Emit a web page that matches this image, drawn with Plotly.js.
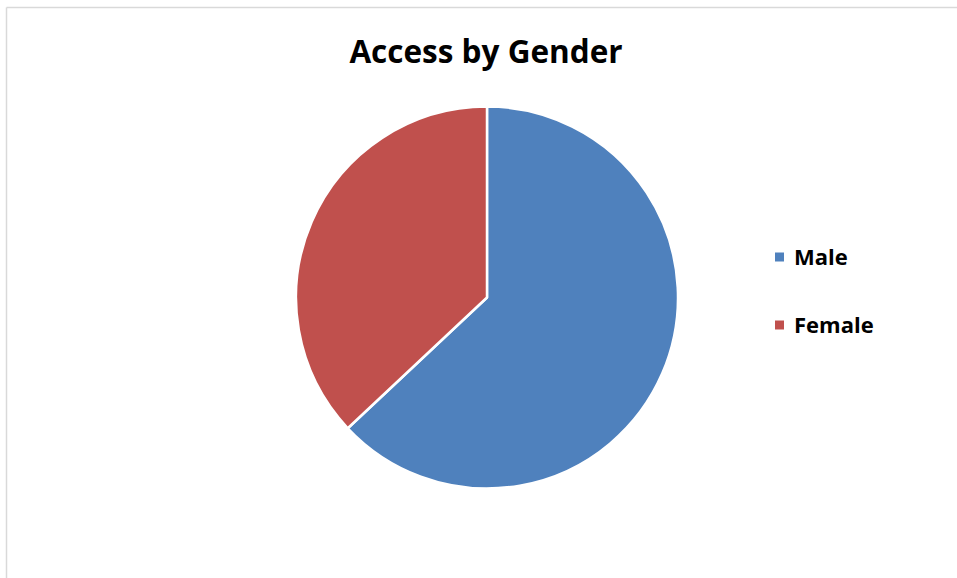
<!DOCTYPE html>
<html>
<head>
<meta charset="utf-8">
<script src="https://cdn.plot.ly/plotly-3.0.1.min.js"></script>
<style>html,body{margin:0;padding:0;background:#fff;}#chart{width:957px;height:578px;}</style>
</head>
<body>
<div id="chart"></div>
<script>
const labels = ["Male", "Female"];
const values = [63, 37];
const colors = ["#4F81BD", "#C0504D"];
const titleText = "Access by Gender";

const W = 957, H = 578;
const px = v => v / W, py = v => 1 - v / H;
const font = "'Open Sans', Lato, sans-serif";

const legendY = [257, 325];
const shapes = [
  {type: "line", xref: "paper", yref: "paper", x0: px(6.5), x1: 1, y0: py(7.5), y1: py(7.5), line: {color: "#D9D9D9", width: 1.5}},
  {type: "line", xref: "paper", yref: "paper", x0: px(6.5), x1: px(6.5), y0: py(7.5), y1: 0, line: {color: "#D9D9D9", width: 1.5}}
];
const annotations = [];
labels.forEach((l, i) => {
  shapes.push({type: "rect", xref: "paper", yref: "paper", x0: px(775), x1: px(784), y0: py(legendY[i] + 4.5), y1: py(legendY[i] - 4.5), fillcolor: colors[i], line: {width: 0}});
  annotations.push({text: "<b>" + l + "</b>", xref: "paper", yref: "paper", x: px(792), y: py(legendY[i] - 1), xanchor: "left", yanchor: "middle", showarrow: false, font: {family: font, size: 22, color: "#000"}});
});

const data = [{
  type: "pie",
  labels: labels,
  values: values,
  sort: false,
  direction: "clockwise",
  rotation: 0,
  marker: {colors: colors, line: {color: "#FFFFFF", width: 2.5}},
  textinfo: "none",
  hoverinfo: "label+value",
  domain: {x: [px(296), px(678)], y: [py(489), py(106)]},
  showlegend: false
}];

const layout = {
  width: W, height: H,
  margin: {l: 0, r: 0, t: 0, b: 0},
  paper_bgcolor: "#FFFFFF",
  title: {text: "<b>" + titleText + "</b>", x: px(486), xanchor: "center", y: py(52), yanchor: "middle", font: {family: font, size: 31.5, color: "#000"}},
  showlegend: false,
  shapes: shapes,
  annotations: annotations
};

Plotly.newPlot("chart", data, layout, {displayModeBar: false});
</script>
</body>
</html>
